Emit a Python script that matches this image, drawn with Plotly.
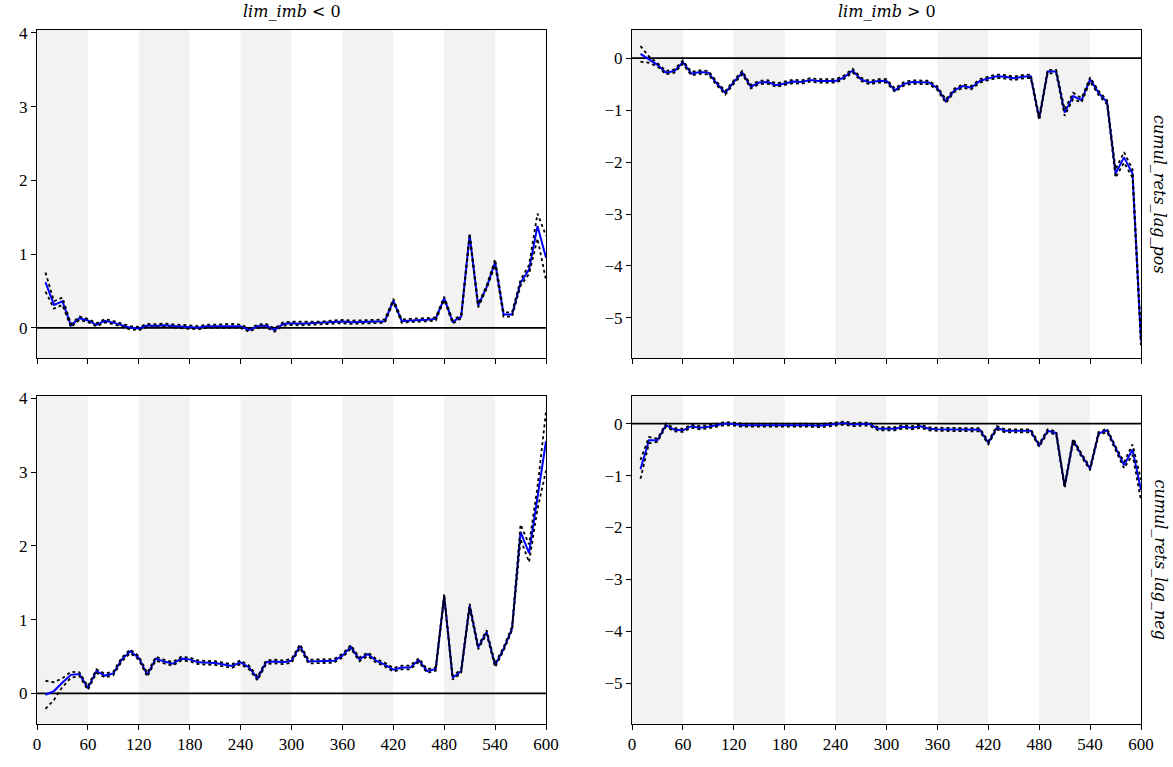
import plotly.graph_objects as go
from plotly.subplots import make_subplots

x_vals = list(range(10, 601, 10))

# top-left: lim_imb < 0, cumul_rets_lag_pos
tl_mean = [0.62, 0.31, 0.36, 0.03, 0.13, 0.10, 0.04, 0.095, 0.07, 0.03,
           0.0, -0.01, 0.03, 0.025, 0.035, 0.025, 0.02, 0.01, 0.0, 0.02,
           0.02, 0.03, 0.03, 0.02, -0.03, 0.02, 0.03, -0.03, 0.05, 0.06,
           0.055, 0.06, 0.06, 0.065, 0.08, 0.085, 0.075, 0.08, 0.09, 0.09,
           0.09, 0.37, 0.09, 0.10, 0.10, 0.11, 0.12, 0.40, 0.08, 0.15,
           1.26, 0.30, 0.55, 0.89, 0.18, 0.18, 0.61, 0.79, 1.38, 0.95]
tl_err = [0.13, 0.05, 0.05] + [0.022] * 50 + [0.04, 0.03, 0.03, 0.04, 0.06, 0.17, 0.30]

# bottom-left: lim_imb < 0, cumul_rets_lag_neg
bl_mean = [-0.02, 0.03, 0.145, 0.25, 0.26, 0.07, 0.30, 0.24, 0.27, 0.46,
           0.57, 0.48, 0.25, 0.47, 0.43, 0.40, 0.47, 0.46, 0.42, 0.42,
           0.41, 0.39, 0.37, 0.42, 0.35, 0.20, 0.42, 0.43, 0.42, 0.44,
           0.64, 0.43, 0.43, 0.43, 0.44, 0.51, 0.63, 0.46, 0.53, 0.44,
           0.39, 0.32, 0.35, 0.35, 0.45, 0.30, 0.33, 1.32, 0.21, 0.30,
           1.19, 0.62, 0.83, 0.38, 0.60, 0.88, 2.19, 1.90, 2.65, 3.42]
bl_err = [0.19, 0.12, 0.06, 0.04] + [0.025] * 52 + [0.10, 0.12, 0.15, 0.40]

# top-right: lim_imb > 0, cumul_rets_lag_pos
tr_mean = [0.08, -0.03, -0.13, -0.28, -0.25, -0.08, -0.30, -0.27, -0.28, -0.49,
           -0.67, -0.46, -0.28, -0.55, -0.47, -0.46, -0.52, -0.49, -0.45, -0.46,
           -0.42, -0.44, -0.44, -0.44, -0.37, -0.24, -0.41, -0.47, -0.44, -0.44,
           -0.62, -0.50, -0.46, -0.46, -0.47, -0.58, -0.83, -0.62, -0.54, -0.57,
           -0.44, -0.39, -0.35, -0.36, -0.39, -0.36, -0.35, -1.16, -0.26, -0.26,
           -1.05, -0.73, -0.81, -0.41, -0.67, -0.85, -2.22, -1.91, -2.22, -5.45]
tr_err = [0.15, 0.06] + [0.033] * 48 + [0.06, 0.06, 0.04, 0.04, 0.04, 0.04, 0.08, 0.10, 0.08, 0.10]

# bottom-right: lim_imb > 0, cumul_rets_lag_neg
br_mean = [-0.88, -0.32, -0.32, -0.03, -0.12, -0.13, -0.05, -0.08, -0.06, -0.03,
           0.0, -0.01, -0.03, -0.03, -0.03, -0.025, -0.025, -0.025, -0.02, -0.02,
           -0.03, -0.04, -0.03, -0.01, 0.01, -0.02, -0.01, -0.01, -0.10, -0.10,
           -0.10, -0.06, -0.08, -0.05, -0.10, -0.11, -0.11, -0.11, -0.11, -0.11,
           -0.12, -0.37, -0.08, -0.14, -0.14, -0.14, -0.14, -0.42, -0.14, -0.18,
           -1.21, -0.32, -0.61, -0.87, -0.19, -0.13, -0.48, -0.80, -0.50, -1.28]
br_err = [0.18, 0.06] + [0.03] * 54 + [0.04, 0.06, 0.10, 0.20]

col_titles = ["<i>lim_imb</i> &lt; 0", "<i>lim_imb</i> &gt; 0"]
row_titles = ["<i>cumul_rets_lag_pos</i>", "<i>cumul_rets_lag_neg</i>"]
x_ticks = list(range(0, 601, 60))
band_starts = [0, 120, 240, 360, 480]

FONT = "Liberation Serif"
TFONT = "DejaVu Serif"

fig = make_subplots(rows=2, cols=2)

panels = [
    (1, 1, tl_mean, tl_err),
    (2, 1, bl_mean, bl_err),
    (1, 2, tr_mean, tr_err),
    (2, 2, br_mean, br_err),
]

for r, c, m, e in panels:
    upper = [a + b for a, b in zip(m, e)]
    lower = [a - b for a, b in zip(m, e)]
    fig.add_trace(go.Scatter(x=x_vals, y=m, mode="lines",
                             line=dict(color="#0000ff", width=2), showlegend=False),
                  row=r, col=c)
    for band in (upper, lower):
        fig.add_trace(go.Scatter(x=x_vals, y=band, mode="lines",
                                 line=dict(color="black", width=1.8, dash="dot"),
                                 showlegend=False),
                      row=r, col=c)

x_domains = {1: [37 / 1173, 546 / 1173], 2: [632 / 1173, 1141 / 1173]}
y_domains = {1: [1 - 358 / 767, 1 - 30 / 767], 2: [1 - 723.5 / 767, 1 - 395.5 / 767]}
y_ranges = {1: [-0.41, 4.04], 2: [-5.77, 0.54]}

shapes = []
for r in (1, 2):
    for c in (1, 2):
        idx = (r - 1) * 2 + c
        xa = "x" if idx == 1 else f"x{idx}"
        ya = "y" if idx == 1 else f"y{idx}"
        fig.update_xaxes(domain=x_domains[c], range=[0, 600], tickvals=x_ticks,
                         showticklabels=(r == 2), ticks="outside", ticklen=5,
                         tickcolor="black", showline=True, linecolor="black",
                         linewidth=1, mirror=True, showgrid=False, zeroline=False,
                         automargin=False,
                         tickfont=dict(family=FONT, size=17, color="black"),
                         row=r, col=c)
        fig.update_yaxes(domain=y_domains[r], range=y_ranges[c],
                         tickvals=[0, 1, 2, 3, 4] if c == 1 else [-5, -4, -3, -2, -1, 0],
                         ticks="outside", ticklen=5, tickcolor="black",
                         showline=True, linecolor="black", linewidth=1, mirror=True,
                         showgrid=False, zeroline=False, automargin=False,
                         tickfont=dict(family=FONT, size=17, color="black"),
                         row=r, col=c)
        for b in band_starts:
            shapes.append(dict(type="rect", xref=xa, yref=f"{ya} domain",
                               x0=b, x1=b + 60, y0=0, y1=1,
                               fillcolor="#f2f2f2", line=dict(width=0), layer="below"))
        shapes.append(dict(type="line", xref=f"{xa} domain", yref=ya,
                           x0=0, x1=1, y0=0, y1=0,
                           line=dict(color="black", width=1.8), layer="below"))

annotations = []
for c, t in zip((1, 2), col_titles):
    annotations.append(dict(text=t, x=sum(x_domains[c]) / 2, y=1 - 12 / 767,
                            xref="paper", yref="paper", showarrow=False,
                            xanchor="center", yanchor="middle",
                            font=dict(family=TFONT, size=16, color="black")))
for r, t in zip((1, 2), row_titles):
    annotations.append(dict(text=t, x=1160 / 1173, y=sum(y_domains[r]) / 2,
                            xref="paper", yref="paper", showarrow=False,
                            textangle=90, xanchor="center", yanchor="middle",
                            font=dict(family=TFONT, size=16, color="black")))

fig.update_layout(width=1173, height=767, margin=dict(l=0, r=0, t=0, b=0),
                  plot_bgcolor="white", paper_bgcolor="white",
                  shapes=shapes, annotations=annotations, showlegend=False)

fig.write_html("out.html")
